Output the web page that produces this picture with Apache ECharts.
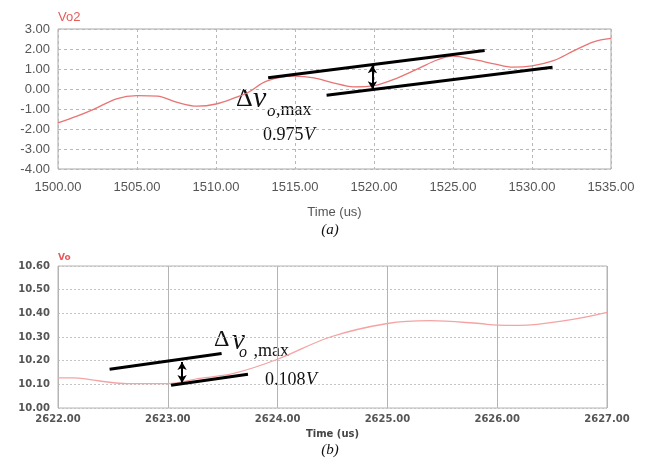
<!DOCTYPE html>
<html>
<head>
<meta charset="utf-8">
<script src="https://cdn.jsdelivr.net/npm/echarts@6/dist/echarts.min.js"></script>
<style>
  html, body { margin: 0; padding: 0; background: #fff; }
  #chart { width: 649px; height: 459px; }
</style>
</head>
<body>
<div id="chart"></div>
<script>
// Panel (a): Vo2 waveform, time in us
const topTime = [1500, 1501.2, 1502.25, 1503.7, 1505, 1506.3, 1507.5, 1508.8, 1510, 1511.3, 1512.0, 1513.2, 1514.9, 1516.2, 1517.4, 1518.7, 1520, 1521.5, 1522.9, 1524.0, 1525.0, 1526.3, 1527.6, 1528.8, 1530, 1531.4, 1532.6, 1533.9, 1535];
const topVo2 = [-1.69, -1.36, -1.02, -0.49, -0.33, -0.36, -0.66, -0.86, -0.75, -0.41, -0.19, 0.39, 0.64, 0.56, 0.31, 0.11, 0.17, 0.56, 1.06, 1.45, 1.64, 1.48, 1.26, 1.09, 1.16, 1.43, 1.89, 2.36, 2.53];
const topYTicks = [-4, 3, 1];        // min, max, interval
const topXTicks = [1500, 1535, 5];
// envelope lines and ripple arrow for panel (a)
const topUpper = [[1513.3, 0.56], [1527.0, 1.93]];
const topLower = [[1517.0, -0.31], [1531.3, 1.09]];
const topArrow = [[1519.9, 1.19], [1519.9, -0.01]];

// Panel (b): Vo waveform
const botTime = [2622, 2622.15, 2622.38, 2622.63, 2623, 2623.29, 2623.6, 2624, 2624.48, 2625, 2625.39, 2625.84, 2626, 2626.2, 2626.66, 2627];
const botVo = [10.127, 10.127, 10.114, 10.103, 10.103, 10.125, 10.146, 10.206, 10.30, 10.357, 10.369, 10.357, 10.35, 10.349, 10.372, 10.404];
const botYTicks = [10.0, 10.6, 0.1];
const botXTicks = [2622, 2627, 1];
const botUpper = [[2622.47, 10.164], [2623.49, 10.230]];
const botLower = [[2623.03, 10.096], [2623.73, 10.143]];
const botArrow = [[2623.13, 10.194], [2623.13, 10.106]];

const zip = (xs, ys) => xs.map((x, i) => [x, ys[i]]);

const serif = '"Liberation Serif", "DejaVu Serif", serif';
const sans = '"Liberation Sans", Arial, sans-serif';
const boldSans = '"DejaVu Sans", Verdana, sans-serif';

function envelope(data, xi, yi) {
  return {
    type: 'line', xAxisIndex: xi, yAxisIndex: yi, data: data,
    showSymbol: false, silent: true,
    lineStyle: { color: '#000', width: 3 }
  };
}
function arrow(pts, xi, yi) {
  return {
    type: 'line', xAxisIndex: xi, yAxisIndex: yi, data: [], silent: true,
    markLine: {
      silent: true, animation: false,
      symbol: ['arrow', 'arrow'], symbolSize: [7, 8],
      label: { show: false },
      lineStyle: { color: '#000', width: 2, type: 'solid' },
      data: [[{ coord: pts[0] }, { coord: pts[1] }]]
    }
  };
}

const chart = echarts.init(document.getElementById('chart'), null, { renderer: 'canvas' });
chart.setOption({
  animation: false,
  backgroundColor: '#fff',
  grid: [
    { left: 58, right: 38, top: 29, height: 140, show: true, borderColor: '#a8a8a8', borderWidth: 1, backgroundColor: 'transparent' },
    { left: 58, right: 42, top: 266, height: 142, show: true, borderColor: '#b4b4b4', borderWidth: 1, backgroundColor: 'transparent' }
  ],
  xAxis: [
    {
      gridIndex: 0, type: 'value', min: topXTicks[0], max: topXTicks[1], interval: topXTicks[2],
      name: 'Time (us)', nameLocation: 'middle', nameGap: 37,
      nameTextStyle: { color: '#555', fontSize: 13, fontFamily: sans },
      axisLine: { show: false }, axisTick: { show: false },
      axisLabel: { color: '#555', fontSize: 13, fontFamily: sans, margin: 12, formatter: v => v.toFixed(2) },
      splitLine: { show: true, lineStyle: { color: '#b8b8b8', type: [3, 3], width: 1 } }
    },
    {
      gridIndex: 1, type: 'value', min: botXTicks[0], max: botXTicks[1], interval: botXTicks[2],
      name: 'Time (us)', nameLocation: 'middle', nameGap: 21,
      nameTextStyle: { color: '#444', fontSize: 10, fontWeight: 'bold', fontFamily: boldSans },
      axisLine: { show: false }, axisTick: { show: false },
      axisLabel: { color: '#555', fontSize: 10, fontWeight: 'bold', fontFamily: boldSans, margin: 6, formatter: v => v.toFixed(2) },
      splitLine: { show: true, lineStyle: { color: '#b4b4b4', type: 'solid', width: 1 } }
    }
  ],
  yAxis: [
    {
      gridIndex: 0, type: 'value', min: topYTicks[0], max: topYTicks[1], interval: topYTicks[2],
      name: 'Vo2', nameLocation: 'end', nameGap: 5,
      nameTextStyle: { color: '#e85a5a', fontSize: 13, fontFamily: sans, align: 'left' },
      axisLine: { show: false }, axisTick: { show: false },
      axisLabel: { color: '#555', fontSize: 13, fontFamily: sans, margin: 8, formatter: v => v.toFixed(2) },
      splitLine: { show: true, lineStyle: { color: '#b8b8b8', type: [3, 3], width: 1 } }
    },
    {
      gridIndex: 1, type: 'value', min: botYTicks[0], max: botYTicks[1], interval: botYTicks[2],
      name: 'Vo', nameLocation: 'end', nameGap: 4,
      nameTextStyle: { color: '#e85a5a', fontSize: 9, fontWeight: 'bold', fontFamily: boldSans, align: 'left' },
      axisLine: { show: false }, axisTick: { show: false },
      axisLabel: { color: '#555', fontSize: 10, fontWeight: 'bold', fontFamily: boldSans, margin: 8, formatter: v => v.toFixed(2) },
      splitLine: { show: true, lineStyle: { color: '#c4c4c4', type: [2, 2], width: 1 } }
    }
  ],
  series: [
    {
      type: 'line', xAxisIndex: 0, yAxisIndex: 0, data: zip(topTime, topVo2),
      smooth: 0.35, showSymbol: false, lineStyle: { color: '#e87474', width: 1.3 }
    },
    {
      type: 'line', xAxisIndex: 1, yAxisIndex: 1, data: zip(botTime, botVo),
      smooth: 0.35, showSymbol: false, lineStyle: { color: '#f4a4a4', width: 1.3 }
    },
    envelope(topUpper, 0, 0),
    envelope(topLower, 0, 0),
    arrow(topArrow, 0, 0),
    envelope(botUpper, 1, 1),
    envelope(botLower, 1, 1),
    arrow(botArrow, 1, 1)
  ],
  graphic: [
    // panel (a) annotation
    { type: 'text', x: 236, y: 99, style: { text: 'Δ', font: '26px ' + serif, fill: '#111', verticalAlign: 'middle' } },
    { type: 'text', x: 253, y: 99, style: { text: 'v', font: 'italic 30px ' + serif, fill: '#111', verticalAlign: 'middle' } },
    { type: 'text', x: 267, y: 112, style: { text: 'o', font: 'italic 17px ' + serif, fill: '#111', verticalAlign: 'middle' } },
    { type: 'text', x: 276, y: 110, style: { text: ',max', font: '18px ' + serif, fill: '#111', verticalAlign: 'middle' } },
    { type: 'text', x: 263, y: 135, style: { text: '0.975', font: '18px ' + serif, fill: '#111', verticalAlign: 'middle' } },
    { type: 'text', x: 304, y: 135, style: { text: 'V', font: 'italic 18px ' + serif, fill: '#111', verticalAlign: 'middle' } },
    { type: 'text', x: 330, y: 230, style: { text: '(a)', font: 'italic 15px ' + serif, fill: '#111', align: 'center', verticalAlign: 'middle' } },
    // panel (b) annotation
    { type: 'text', x: 214, y: 340, style: { text: 'Δ', font: '24px ' + serif, fill: '#111', verticalAlign: 'middle' } },
    { type: 'text', x: 232, y: 341, style: { text: 'v', font: 'italic 29px ' + serif, fill: '#111', verticalAlign: 'middle' } },
    { type: 'text', x: 239, y: 353, style: { text: 'o', font: 'italic 16px ' + serif, fill: '#111', verticalAlign: 'middle' } },
    { type: 'text', x: 249, y: 351, style: { text: ' ,max', font: '18px ' + serif, fill: '#111', verticalAlign: 'middle' } },
    { type: 'text', x: 265, y: 380, style: { text: '0.108', font: '18px ' + serif, fill: '#111', verticalAlign: 'middle' } },
    { type: 'text', x: 306, y: 380, style: { text: 'V', font: 'italic 18px ' + serif, fill: '#111', verticalAlign: 'middle' } },
    { type: 'text', x: 330, y: 450, style: { text: '(b)', font: 'italic 15px ' + serif, fill: '#111', align: 'center', verticalAlign: 'middle' } }
  ]
});
</script>
</body>
</html>
